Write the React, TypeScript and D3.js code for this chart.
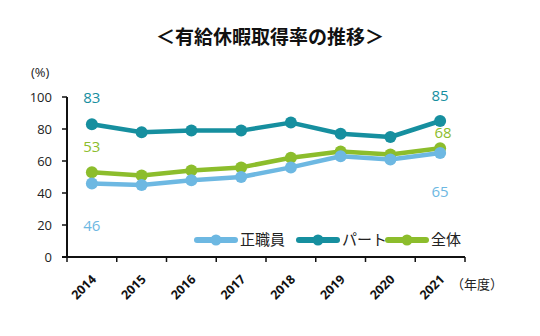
import React from "react";
import * as d3 from "d3";

const years = ["2014", "2015", "2016", "2017", "2018", "2019", "2020", "2021"];
const seiShokuin = [46, 45, 48, 50, 56, 63, 61, 65];
const part = [83, 78, 79, 79, 84, 77, 75, 85];
const zentai = [53, 51, 54, 56, 62, 66, 64, 68];
const yTicks = [0, 20, 40, 60, 80, 100];
const seriesNames = ["正職員", "パート", "全体"];
const colors = ["#6db8e2", "#168f9f", "#8cbd2c"];

const W = 540, H = 336;
const x0 = 67, x1 = 465, yBottom = 257, yTop = 97;

export default function App() {
  const x = d3.scaleBand<string>().domain(years).range([x0, x1]);
  const y = d3.scaleLinear().domain([0, 100]).range([yBottom, yTop]);
  const line = d3.line<number>().x((_, i) => (x(years[i]) as number) + x.bandwidth() / 2).y((d) => y(d));
  const series = [seiShokuin, part, zentai];
  const cx = (i: number) => (x(years[i]) as number) + x.bandwidth() / 2;
  const numFont = "'Open Sans', 'Noto Sans', sans-serif";
  const jpFont = "'Noto Sans CJK JP', sans-serif";
  const last = years.length - 1;
  const labels = [
    { s: 1, i: 0, dy: -26 }, { s: 2, i: 0, dy: -25 }, { s: 0, i: 0, dy: 42 },
    { s: 1, i: last, dy: -25 }, { s: 2, i: last, dy: -15, dx: 3 }, { s: 0, i: last, dy: 39 },
  ];
  const legendX = [197, 299, 388];
  return (
    <div style={{ margin: -8 }}>
      <svg width={W} height={H} style={{ display: "block", background: "#fff" }}>
        <text x={270} y={44} textAnchor="middle" fontFamily={jpFont} fontWeight="bold" fontSize={19} fill="#111">＜有給休暇取得率の推移＞</text>
        <text x={31} y={72} dy="0.35em" fontFamily={numFont} fontSize={13} fill="#222">(%)</text>
        {/* y axis */}
        <line x1={x0} x2={x0} y1={yTop} y2={yBottom} stroke="#111" strokeWidth={2} />
        {yTicks.map((t) => (
          <g key={t}>
            <line x1={x0 - 5} x2={x0} y1={y(t)} y2={y(t)} stroke="#111" strokeWidth={1.5} />
            <text x={52} y={y(t)} dy="0.35em" textAnchor="end" fontFamily={numFont} fontSize={13} fill="#222">{t}</text>
          </g>
        ))}
        {/* x axis */}
        <line x1={x0 - 5} x2={x1} y1={yBottom} y2={yBottom} stroke="#111" strokeWidth={2} />
        {[...years.map((yr) => x(yr) as number), x1].map((px, i) => (
          <line key={i} x1={px} x2={px} y1={yBottom} y2={yBottom + 5} stroke="#111" strokeWidth={1.5} />
        ))}
        {years.map((yr, i) => (
          <text key={yr} transform={`translate(${cx(i) + 2},${yBottom + 20}) rotate(-45)`} textAnchor="end" dy="0.35em"
            fontFamily={numFont} fontWeight="bold" fontSize={12.5} fill="#111">{yr}</text>
        ))}
        <text x={451} y={284} dy="0.35em" fontFamily={jpFont} fontSize={13} fill="#222">（年度）</text>
        {/* lines */}
        {[1, 2, 0].map((s) => (
          <g key={s}>
            <path d={line(series[s]) as string} fill="none" stroke={colors[s]} strokeWidth={4.5} strokeLinejoin="round" />
            {series[s].map((v, i) => (
              <circle key={i} cx={cx(i)} cy={y(v)} r={6} fill={colors[s]} />
            ))}
          </g>
        ))}
        {/* data labels */}
        {labels.map((l, k) => (
          <text key={k} x={cx(l.i) + (l.dx || 0)} y={y(series[l.s][l.i]) + l.dy} dy="0.35em" textAnchor="middle"
            fontFamily={numFont} fontSize={15} fill={colors[l.s]}>{series[l.s][l.i]}</text>
        ))}
        {/* legend */}
        {seriesNames.map((n, k) => (
          <g key={n}>
            <line x1={legendX[k]} x2={legendX[k] + 38} y1={240} y2={240} stroke={colors[k]} strokeWidth={6} strokeLinecap="round" />
            <circle cx={legendX[k] + 19} cy={240} r={5.5} fill={colors[k]} />
            <text x={legendX[k] + 43} y={240} dy="0.35em" fontFamily={jpFont} fontSize={15} fill="#222">{n}</text>
          </g>
        ))}
      </svg>
    </div>
  );
}
